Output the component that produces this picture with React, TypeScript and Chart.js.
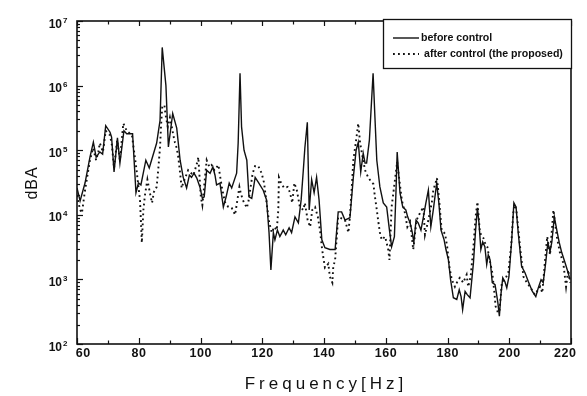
import React, { useEffect, useRef } from 'react';
import { Chart, registerables } from 'chart.js';

Chart.register(...registerables);

// [frequency (Hz), magnitude (dBA)]
const BEFORE_CONTROL: number[][] = [
  [60, 2.6e4], [61.0, 1.64e4], [62.6, 3.1e4], [64.2, 7.8e4], [65.3, 1.33e5], [66.2, 7.8e4], [67.4, 9.4e4], [68.3, 8.7e4],
  [69.3, 2.4e5], [70.7, 1.9e5], [71.2, 1.6e5], [72.0, 4.6e4], [73.1, 1.55e5], [73.9, 6.3e4], [75.2, 2.0e5], [76.1, 1.8e5],
  [78.0, 1.8e5], [79.1, 2.2e4], [79.9, 3.1e4], [80.7, 2.9e4], [82.3, 7.0e4], [83.4, 5.3e4], [85.8, 1.29e5], [86.9, 2.9e5],
  [87.6, 3.9e6], [88.8, 1.0e6], [89.6, 1.12e5], [91.0, 3.7e5], [92.3, 2.2e5], [93.4, 7.0e4], [94.4, 3.8e4], [95.5, 2.6e4],
  [96.4, 4.1e4], [97.1, 3.8e4], [97.9, 4.4e4], [98.8, 3.7e4], [99.8, 2.7e4], [100.6, 1.8e4], [101.2, 1.9e4], [102.0, 4.9e4],
  [103.1, 4.4e4], [104.0, 5.5e4], [104.7, 4.1e4], [105.2, 2.9e4], [106.3, 3.1e4], [107.4, 1.32e4], [108.3, 1.9e4], [109.3, 3.1e4],
  [110.1, 2.6e4], [111.7, 4.4e4], [112.2, 1.29e5], [112.8, 1.55e6], [113.3, 2.3e5], [114.1, 1.0e5], [115.0, 7.0e4], [115.7, 1.9e4],
  [116.6, 1.8e4], [117.7, 3.8e4], [118.7, 3.2e4], [120.3, 2.4e4], [121.4, 1.7e4], [122.2, 5.3e3], [122.8, 1.4e3], [123.6, 5.3e3],
  [124.1, 4.1e3], [124.9, 5.8e3], [125.7, 4.6e3], [126.8, 5.8e3], [127.6, 4.9e3], [128.7, 6.3e3], [129.5, 5.3e3], [130.6, 9.3e3],
  [131.7, 7.5e3], [132.6, 1.7e4], [133.3, 4.9e4], [133.8, 1.08e5], [134.6, 2.7e5], [135.2, 1.19e4], [136.0, 3.5e4], [136.8, 2.2e4],
  [137.6, 3.8e4], [138.4, 1.7e4], [139.3, 4.1e3], [140.3, 3.1e3], [141.9, 2.9e3], [143.6, 2.9e3], [144.6, 1.11e4], [145.7, 1.11e4],
  [146.8, 8.3e3], [148.4, 9.0e3], [149.5, 3.8e4], [150.4, 1.0e5], [151.1, 1.33e5], [151.9, 4.6e4], [152.7, 9.0e4], [153.3, 6.3e4],
  [153.8, 6.3e4], [154.7, 1.43e5], [155.9, 1.55e6], [156.5, 3.2e5], [157.1, 7.0e4], [158.1, 2.7e4], [159.2, 1.53e4], [160.3, 1.32e4],
  [161.2, 5.8e3], [161.9, 3.2e3], [162.8, 4.6e3], [163.3, 2.2e4], [163.7, 9.4e4], [164.6, 2.2e4], [165.5, 1.32e4], [166.5, 1.19e4],
  [167.1, 9.3e3], [167.9, 7.5e3], [168.6, 5.3e3], [169.1, 3.7e3], [169.8, 8.3e3], [170.5, 7.5e3], [171.4, 5.8e3], [172.2, 9.3e3],
  [173.0, 1.53e4], [173.8, 2.4e4], [174.6, 6.5e3], [175.4, 1.19e4], [176.5, 3.1e4], [177.2, 1.53e4], [177.9, 5.8e3], [178.9, 4.1e3],
  [179.5, 2.9e3], [180.3, 2.0e3], [181.0, 9.9e2], [181.9, 5.2e2], [183.0, 4.9e2], [183.8, 6.9e2], [184.4, 5.4e2], [184.9, 3.4e2],
  [185.7, 6.5e2], [186.4, 5.8e2], [187.3, 5.2e2], [188.4, 1.8e3], [189.1, 5.8e3], [189.7, 1.28e4], [190.2, 7.5e3], [190.8, 2.9e3],
  [191.4, 3.8e3], [192.1, 3.2e3], [192.7, 1.7e3], [193.2, 2.4e3], [193.8, 2.0e3], [194.5, 8.9e2], [195.4, 8.3e2], [196.3, 4.4e2],
  [196.8, 2.7e2], [197.3, 5.8e2], [197.9, 1.06e3], [198.6, 9.2e2], [199.2, 7.4e2], [199.9, 1.1e3], [200.8, 4.1e3], [201.5, 1.53e4],
  [202.2, 1.32e4], [202.9, 5.3e3], [204.0, 1.6e3], [205.1, 1.27e3], [206.2, 9.2e2], [207.5, 6.5e2], [208.6, 5.4e2], [209.4, 7.4e2],
  [210.3, 9.9e2], [211.0, 8.9e2], [211.8, 1.8e3], [212.5, 3.7e3], [213.2, 2.7e3], [213.8, 3.8e3], [214.6, 9.3e3], [215.4, 5.8e3],
  [216.2, 3.7e3], [217.0, 2.6e3], [218.1, 1.8e3], [218.8, 1.4e3], [219.7, 9.9e2],
];

const AFTER_CONTROL: number[][] = [
  [60, 2.0e4], [61.0, 1.19e4], [61.6, 1.07e4], [62.6, 2.4e4], [64.2, 7.0e4], [65.2, 1.08e5], [66.2, 7.0e4], [66.9, 9.4e4],
  [67.4, 1.29e5], [68.4, 9.4e4], [69.3, 2.0e5], [70.7, 1.7e5], [71.3, 1.2e5], [72.0, 5.3e4], [73.0, 1.43e5], [73.9, 7.0e4],
  [75.0, 2.6e5], [76.1, 2.0e5], [77.8, 1.7e5], [79.3, 4.9e4], [79.9, 2.7e4], [80.4, 1.7e4], [81.0, 3.7e3], [81.5, 1.19e4],
  [82.0, 2.0e4], [82.8, 3.5e4], [83.6, 2.2e4], [84.3, 1.53e4], [84.9, 2.25e4], [85.8, 2.7e4], [86.3, 4.9e4], [86.9, 1.12e5],
  [87.2, 2.3e5], [87.6, 4.6e5], [88.3, 5.0e5], [88.7, 3.5e5], [89.4, 2.3e5], [90.1, 3.2e5], [90.7, 2.3e5], [91.2, 1.7e5],
  [91.7, 1.33e5], [92.3, 1.08e5], [92.8, 7.8e4], [93.4, 4.4e4], [93.9, 2.6e4], [94.4, 3.1e4], [96.0, 4.9e4], [97.7, 4.1e4],
  [99.0, 6.6e4], [99.3, 7.8e4], [100.1, 1.9e4], [100.6, 1.42e4], [102.0, 7.0e4], [102.9, 5.5e4], [103.6, 5.9e4], [104.5, 4.9e4],
  [105.8, 5.9e4], [106.3, 4.1e4], [106.9, 2.7e4], [107.9, 1.58e4], [109.0, 1.32e4], [110.1, 1.28e4], [111.2, 1.0e4], [112.6, 2.7e4],
  [113.0, 2.2e4], [113.7, 1.7e4], [115.0, 1.28e4], [115.5, 1.58e4], [116.9, 4.4e4], [117.7, 5.7e4], [118.7, 5.7e4], [119.8, 4.4e4],
  [120.6, 3.1e4], [121.4, 1.53e4], [122.2, 7.8e3], [123.1, 5.3e3], [123.9, 6.5e3], [124.7, 5.8e3], [125.2, 1.19e4], [125.4, 3.8e4],
  [126.1, 3.1e4], [127.1, 2.6e4], [128.2, 2.7e4], [129.0, 2.2e4], [129.7, 1.53e4], [130.4, 3.1e4], [131.2, 2.4e4], [132.2, 1.32e4],
  [133.3, 1.19e4], [133.8, 1.53e4], [134.7, 8.3e3], [135.5, 6.5e3], [136.2, 1.19e4], [137.1, 1.32e4], [138.0, 9.3e3], [138.7, 5.8e3],
  [139.4, 2.9e3], [140.3, 1.52e3], [141.4, 1.75e3], [141.9, 1.1e3], [142.7, 8.9e2], [143.0, 1.57e3], [143.6, 2.0e3], [144.6, 9.3e3],
  [146.8, 8.3e3], [147.9, 5.3e3], [148.4, 9.3e3], [149.0, 2.7e4], [149.5, 7.0e4], [150.4, 1.43e5], [151.1, 2.6e5], [151.7, 1.29e5],
  [152.5, 7.8e4], [153.3, 4.9e4], [154.3, 3.8e4], [155.4, 3.2e4], [156.0, 3.0e4], [156.5, 1.9e4], [157.1, 1.19e4], [157.6, 7.8e3],
  [158.1, 5.3e3], [158.7, 4.1e3], [159.8, 4.6e3], [160.8, 2.9e3], [161.2, 2.0e3], [161.9, 1.32e4], [162.7, 2.7e4], [163.7, 6.6e4],
  [164.3, 3.8e4], [165.2, 1.7e4], [166.2, 1.07e4], [167.0, 6.5e3], [167.9, 7.8e3], [168.9, 2.9e3], [170.0, 8.3e3], [171.1, 1.07e4],
  [172.2, 1.32e4], [172.7, 4.9e3], [173.8, 8.3e3], [174.9, 1.53e4], [175.4, 2.4e4], [176.6, 3.7e4], [177.3, 1.7e4], [178.1, 5.8e3],
  [179.2, 5.1e3], [179.9, 3.2e3], [180.6, 1.57e3], [181.4, 9.9e2], [182.4, 7.7e2], [183.5, 9.9e2], [184.0, 1.06e3], [185.1, 8.9e2],
  [186.2, 1.18e3], [186.7, 7.7e2], [187.5, 1.1e3], [188.4, 3.2e3], [189.1, 9.3e3], [189.7, 1.58e4], [190.5, 5.3e3], [191.6, 4.4e3],
  [192.1, 3.7e3], [192.9, 3.2e3], [193.5, 2.2e3], [194.5, 1.27e3], [195.2, 6.2e2], [195.6, 3.8e2], [196.3, 3.1e2], [196.8, 3.1e2],
  [197.6, 8.9e2], [198.6, 9.9e2], [199.7, 1.27e3], [200.6, 3.2e3], [201.3, 1.07e4], [201.9, 1.42e4], [202.4, 1.07e4], [203.5, 3.2e3],
  [204.6, 1.1e3], [205.7, 8.9e2], [206.7, 7.7e2], [208.3, 5.8e2], [210.0, 7.7e2], [210.7, 6.2e2], [211.6, 2.0e3], [212.3, 4.6e3],
  [213.2, 2.4e3], [214.3, 1.19e4], [215.4, 4.6e3], [216.4, 2.6e3], [217.5, 1.8e3], [218.4, 7.7e2], [219.1, 1.4e3], [219.7, 8.9e2],
];

const SERIES_LABELS = ['before control', 'after control (the proposed)'];
const X_TICKS = [60, 80, 100, 120, 140, 160, 180, 200, 220];
const Y_TICKS = [1e2, 1e3, 1e4, 1e5, 1e6, 1e7];
const X_TITLE = 'Frequency[Hz]';
const Y_TITLE = 'dBA';

const INK = '#111';
const FONT = '"Liberation Sans", Arial, Helvetica, sans-serif';

function spacedText(ctx: CanvasRenderingContext2D, text: string, cx: number, y: number, spacing: number) {
  const chars = [...text];
  const ws = chars.map((c) => ctx.measureText(c).width);
  const total = ws.reduce((a, b) => a + b, 0) + spacing * (chars.length - 1);
  let x = cx - total / 2;
  ctx.textAlign = 'left';
  chars.forEach((c, i) => {
    ctx.fillText(c, x, y);
    x += ws[i] + spacing;
  });
}

const decorPlugin = {
  id: 'decor',
  afterDatasetsDraw(chart: any) {
    const { ctx, chartArea: a, scales } = chart;
    const xs = scales.x;
    const ys = scales.y;
    ctx.save();
    ctx.strokeStyle = INK;
    ctx.fillStyle = INK;

    const seg = (x1: number, y1: number, x2: number, y2: number) => {
      ctx.beginPath();
      ctx.moveTo(x1, y1);
      ctx.lineTo(x2, y2);
      ctx.stroke();
    };

    // x ticks (inward, bottom and top)
    ctx.lineWidth = 1.2;
    for (let v = xs.min; v <= xs.max + 1e-6; v += 10) {
      const px = Math.round(xs.getPixelForValue(v)) + 0.5;
      const major = X_TICKS.includes(v);
      const len = major ? 6 : 3.5;
      seg(px, a.bottom, px, a.bottom - len);
      seg(px, a.top, px, a.top + (major ? 5 : 3.5));
    }
    // y ticks (inward, left)
    const eMin = Math.round(Math.log10(ys.min));
    const eMax = Math.round(Math.log10(ys.max));
    for (let e = eMin; e <= eMax; e++) {
      for (let k = 1; k < 10; k++) {
        const v = k * Math.pow(10, e);
        if (v > ys.max * 1.0001) break;
        const py = Math.round(ys.getPixelForValue(v)) + 0.5;
        const len = k === 1 ? 6 : 3;
        seg(a.left, py, a.left + len, py);
      }
    }

    // frame
    ctx.lineWidth = 1.6;
    ctx.strokeRect(a.left, a.top, a.right - a.left, a.bottom - a.top);

    // y tick labels: 10 with superscript exponent
    Y_TICKS.forEach((v) => {
      const py = ys.getPixelForValue(v);
      const exp = String(Math.round(Math.log10(v)));
      ctx.font = `bold 12px ${FONT}`;
      ctx.textAlign = 'right';
      ctx.textBaseline = 'alphabetic';
      ctx.fillText('10', 62, py + 6.5);
      ctx.font = `bold 8px ${FONT}`;
      ctx.textAlign = 'left';
      ctx.fillText(exp, 63, py + 1.5);
    });

    // x tick labels
    ctx.font = `bold 12.5px ${FONT}`;
    ctx.textBaseline = 'alphabetic';
    X_TICKS.forEach((v, i) => {
      const px = xs.getPixelForValue(v);
      const shift = i === 0 ? 6 : i === X_TICKS.length - 1 ? -6 : 0;
      spacedText(ctx, String(v), px + shift, a.bottom + 13, 0.5);
    });

    // axis titles
    ctx.font = `17px ${FONT}`;
    ctx.textBaseline = 'alphabetic';
    spacedText(ctx, X_TITLE, (a.left + a.right) / 2, 389, 4);
    ctx.save();
    ctx.translate(37, (a.top + a.bottom) / 2 + 1);
    ctx.rotate(-Math.PI / 2);
    ctx.font = `16px ${FONT}`;
    spacedText(ctx, Y_TITLE, 0, 0, 1);
    ctx.restore();

    // legend
    const lx = a.right - 188;
    const ly = a.top - 2;
    const lw = 188;
    const lh = 49;
    ctx.fillStyle = '#fff';
    ctx.fillRect(lx, ly, lw, lh);
    ctx.lineWidth = 1.3;
    ctx.strokeStyle = INK;
    ctx.strokeRect(lx + 0.5, ly + 0.5, lw, lh);
    ctx.fillStyle = INK;
    ctx.font = `bold 10.6px ${FONT}`;
    ctx.textBaseline = 'middle';
    ctx.textAlign = 'left';
    const rows = [ly + 19, ly + 35];
    chart.data.datasets.forEach((ds: any, i: number) => {
      ctx.lineWidth = ds.borderWidth;
      ctx.setLineDash(ds.borderDash || []);
      seg(lx + 10, rows[i], lx + 36, rows[i]);
      ctx.setLineDash([]);
      ctx.fillText(ds.label, lx + (i === 0 ? 38 : 41), rows[i] + 0.5);
    });

    ctx.restore();
  },
};

export default function App() {
  const ref = useRef<HTMLCanvasElement | null>(null);

  useEffect(() => {
    if (!ref.current) return;
    const chart = new Chart(ref.current, {
      type: 'line',
      data: {
        datasets: [
          {
            label: SERIES_LABELS[0],
            data: BEFORE_CONTROL.map(([x, y]) => ({ x, y })),
            borderColor: INK,
            borderWidth: 1.4,
            pointRadius: 0,
            tension: 0,
          },
          {
            label: SERIES_LABELS[1],
            data: AFTER_CONTROL.map(([x, y]) => ({ x, y })),
            borderColor: INK,
            borderWidth: 1.9,
            borderDash: [1.8, 3.2],
            pointRadius: 0,
            tension: 0,
          },
        ],
      },
      options: {
        animation: false,
        responsive: false,
        devicePixelRatio: 1,
        layout: { padding: { top: 21, right: 16, left: 0, bottom: 0 } },
        plugins: { legend: { display: false }, tooltip: { enabled: false }, title: { display: false } },
        scales: {
          x: {
            type: 'linear',
            min: 60,
            max: 220,
            grid: { display: false, drawTicks: false },
            border: { display: false },
            ticks: { display: false },
            afterFit: (s: any) => {
              s.height = 52;
            },
          },
          y: {
            type: 'logarithmic',
            min: 100,
            max: 1e7,
            grid: { display: false, drawTicks: false },
            border: { display: false },
            ticks: { display: false },
            afterFit: (s: any) => {
              s.width = 77;
            },
          },
        },
      } as any,
      plugins: [decorPlugin],
    });
    return () => chart.destroy();
  }, []);

  return (
    <div style={{ position: 'absolute', left: 0, top: 0, width: 587, height: 396, background: '#fff' }}>
      <canvas ref={ref} width={587} height={396} style={{ display: 'block', width: 587, height: 396 }} />
    </div>
  );
}
